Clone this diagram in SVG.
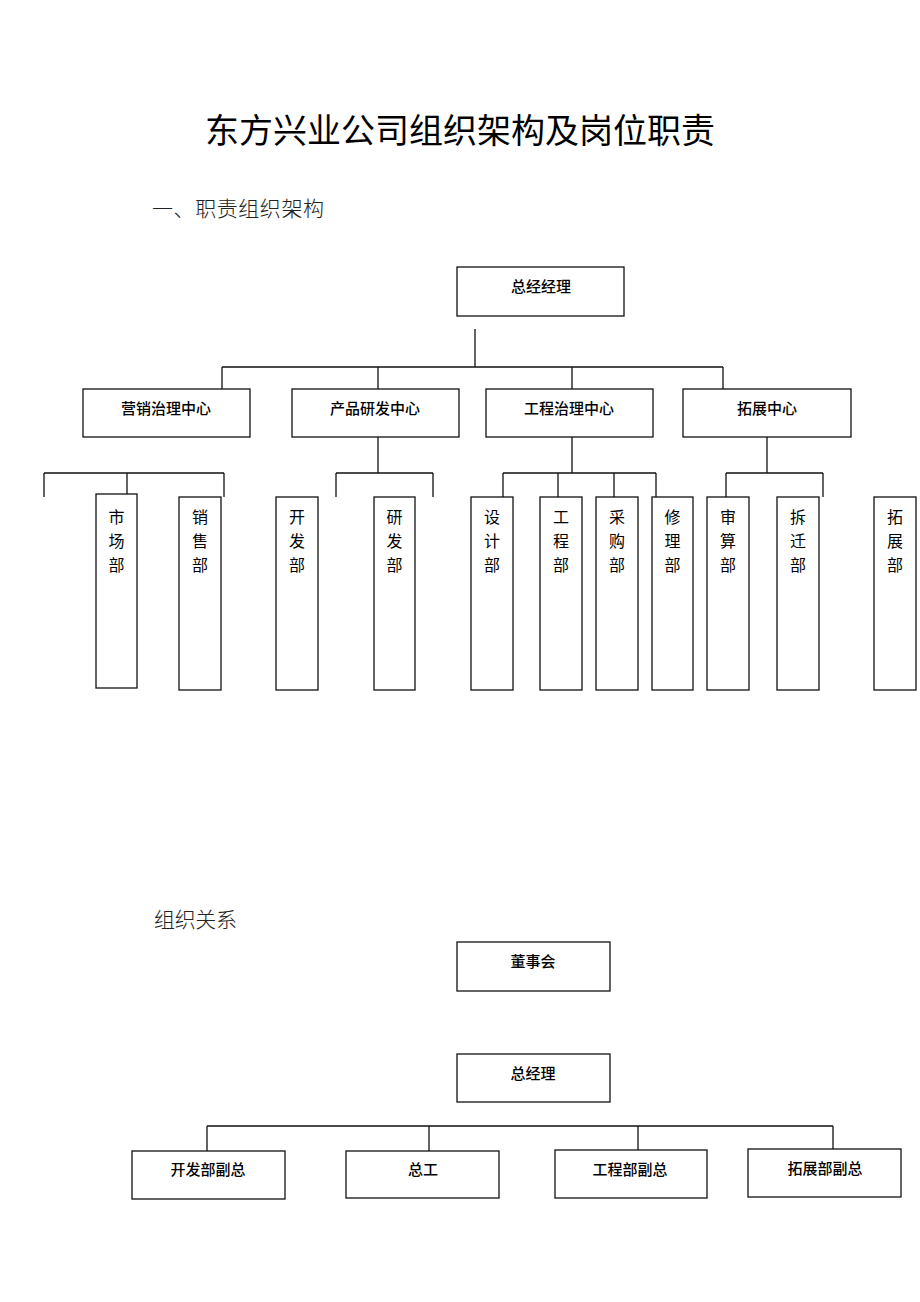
<svg xmlns="http://www.w3.org/2000/svg" width="920" height="1302" viewBox="0 0 920 1302">
<style>
.bg{fill:#fff}
.box{fill:#fff;stroke:#111;stroke-width:1.3}
.ln{fill:none;stroke:#111;stroke-width:1.3}
.t{font-family:"Noto Sans CJK SC","Noto Sans",sans-serif;font-size:15px;font-weight:500;fill:#000;text-anchor:middle}
.v{font-family:"Noto Sans CJK SC","Noto Sans",sans-serif;font-size:16px;fill:#000;text-anchor:middle}
.h1{font-family:"Noto Sans CJK SC",sans-serif;font-size:34px;fill:#000;text-anchor:middle}
.h2{font-family:"Noto Sans CJK SC",sans-serif;font-size:21px;font-weight:300;fill:#222}
</style>
<rect class="bg" x="0" y="0" width="920" height="1302"/>
<text class="h1" x="460" y="143">东方兴业公司组织架构及岗位职责</text>
<text class="h2" x="152" y="216" textLength="172">一、职责组织架构</text>
<text class="h2" x="154" y="927" textLength="83">组织关系</text>

<g id="connectors">
  <path class="ln" d="M475,329 V367 M222,367 H723 M222,367 V389 M378,367 V389 M572,367 V389 M723,367 V389"/>
  <path class="ln" d="M44,473 H224 M44,473 V497 M224,473 V497 M127,473 V494"/>
  <path class="ln" d="M378,437 V473 M336,473 H433 M336,473 V497 M433,473 V497"/>
  <path class="ln" d="M572,437 V473 M503,473 H656 M503,473 V497 M558,473 V497 M614,473 V497 M656,473 V497"/>
  <path class="ln" d="M767,437 V473 M726,473 H823 M726,473 V497 M823,473 V497"/>
  <path class="ln" d="M207,1126 H833 M207,1126 V1151 M429,1126 V1151 M638,1126 V1150 M833,1126 V1149"/>
</g>

<g id="n-gm"><rect class="box" x="457" y="267" width="167" height="49"/><text class="t" x="541" y="292">总经经理</text></g>

<g id="n-marketing"><rect class="box" x="83" y="389" width="167" height="48"/><text class="t" x="166" y="414">营销治理中心</text></g>
<g id="n-product"><rect class="box" x="292" y="389" width="167" height="48"/><text class="t" x="375" y="414">产品研发中心</text></g>
<g id="n-engineering"><rect class="box" x="486" y="389" width="167" height="48"/><text class="t" x="569" y="414">工程治理中心</text></g>
<g id="n-expansion"><rect class="box" x="683" y="389" width="168" height="48"/><text class="t" x="767" y="414">拓展中心</text></g>

<g id="d-market"><rect class="box" x="96" y="494" width="41" height="194"/><text class="v" x="116.5" y="523">市</text><text class="v" x="116.5" y="547">场</text><text class="v" x="116.5" y="571">部</text></g>
<g id="d-sales"><rect class="box" x="179" y="497" width="42" height="193"/><text class="v" x="200" y="523">销</text><text class="v" x="200" y="547">售</text><text class="v" x="200" y="571">部</text></g>
<g id="d-dev"><rect class="box" x="276" y="497" width="42" height="193"/><text class="v" x="297" y="523">开</text><text class="v" x="297" y="547">发</text><text class="v" x="297" y="571">部</text></g>
<g id="d-rnd"><rect class="box" x="374" y="497" width="41" height="193"/><text class="v" x="394.5" y="523">研</text><text class="v" x="394.5" y="547">发</text><text class="v" x="394.5" y="571">部</text></g>
<g id="d-design"><rect class="box" x="471" y="497" width="42" height="193"/><text class="v" x="492" y="523">设</text><text class="v" x="492" y="547">计</text><text class="v" x="492" y="571">部</text></g>
<g id="d-eng"><rect class="box" x="540" y="497" width="42" height="193"/><text class="v" x="561" y="523">工</text><text class="v" x="561" y="547">程</text><text class="v" x="561" y="571">部</text></g>
<g id="d-purchase"><rect class="box" x="596" y="497" width="42" height="193"/><text class="v" x="617" y="523">采</text><text class="v" x="617" y="547">购</text><text class="v" x="617" y="571">部</text></g>
<g id="d-repair"><rect class="box" x="652" y="497" width="41" height="193"/><text class="v" x="672.5" y="523">修</text><text class="v" x="672.5" y="547">理</text><text class="v" x="672.5" y="571">部</text></g>
<g id="d-audit"><rect class="box" x="707" y="497" width="42" height="193"/><text class="v" x="728" y="523">审</text><text class="v" x="728" y="547">算</text><text class="v" x="728" y="571">部</text></g>
<g id="d-demolition"><rect class="box" x="777" y="497" width="42" height="193"/><text class="v" x="798" y="523">拆</text><text class="v" x="798" y="547">迁</text><text class="v" x="798" y="571">部</text></g>
<g id="d-expand"><rect class="box" x="874" y="497" width="42" height="193"/><text class="v" x="895" y="523">拓</text><text class="v" x="895" y="547">展</text><text class="v" x="895" y="571">部</text></g>

<g id="n-board"><rect class="box" x="457" y="942" width="153" height="49"/><text class="t" x="533" y="967">董事会</text></g>
<g id="n-gm2"><rect class="box" x="457" y="1054" width="153" height="48"/><text class="t" x="533" y="1079">总经理</text></g>
<g id="n-vp-dev"><rect class="box" x="132" y="1151" width="153" height="48"/><text class="t" x="208" y="1175">开发部副总</text></g>
<g id="n-chief-eng"><rect class="box" x="346" y="1151" width="153" height="47"/><text class="t" x="423" y="1175">总工</text></g>
<g id="n-vp-eng"><rect class="box" x="555" y="1150" width="152" height="48"/><text class="t" x="630" y="1175">工程部副总</text></g>
<g id="n-vp-exp"><rect class="box" x="748" y="1149" width="153" height="48"/><text class="t" x="825" y="1174">拓展部副总</text></g>
</svg>
